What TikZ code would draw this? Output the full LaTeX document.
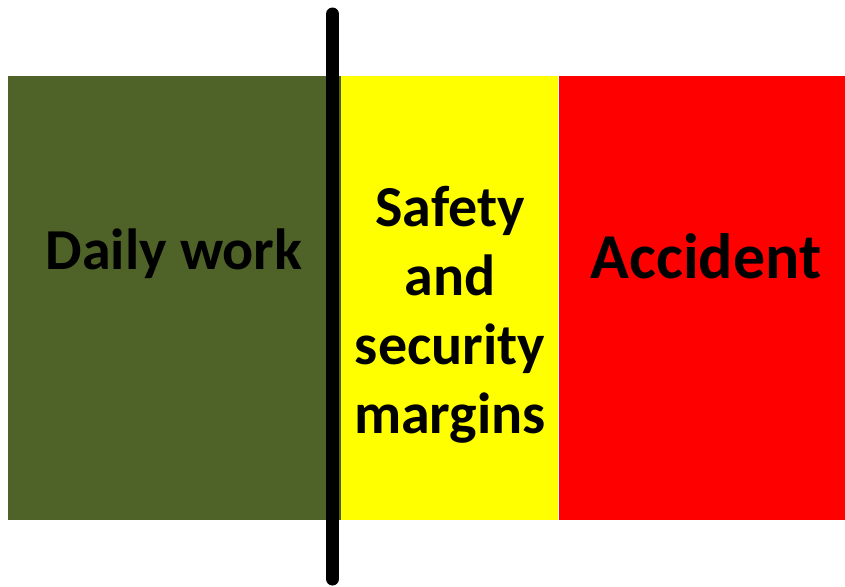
\documentclass[tikz,border=0pt]{standalone}
\usepackage{fontspec}
\setmainfont{Carlito}
\definecolor{olivegreen}{HTML}{4F6228}
\definecolor{pureyellow}{HTML}{FFFF00}
\begin{document}
\begin{tikzpicture}[x=1pt,y=-1pt,
  zone/.style={draw=none,anchor=north west,inner sep=0pt,outer sep=0pt},
  lbl/.style={font=\fontsize{58}{69}\selectfont\bfseries,align=center,inner sep=0pt}]
\useasboundingbox (0,0) rectangle (845,586);
\node[zone,fill=olivegreen,minimum width=333,minimum height=444] (green) at (8,76) {};
\node[zone,fill=pureyellow,minimum width=216.5,minimum height=444] (yellowz) at (341,76) {};
\node[zone,fill=red,minimum width=286,minimum height=444] (redz) at (559,76) {};
\node[lbl] (t1) at (174,254) {Daily work};
\node[lbl] (t2) at (450,315) {Safety\\and\\security\\margins};
\node[lbl,font=\fontsize{64}{70}\selectfont\bfseries] (t3) at (706,256) {Accident};
\coordinate (ltop) at (332.5,14);
\coordinate (lbot) at (332.5,579);
\draw[line width=13,line cap=round] (ltop) -- (lbot);
\end{tikzpicture}
\end{document}
